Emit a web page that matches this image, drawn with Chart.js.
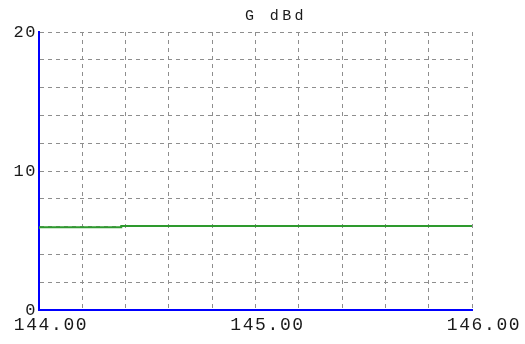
<!DOCTYPE html>
<html>
<head>
<meta charset="utf-8">
<script src="https://cdn.jsdelivr.net/npm/chart.js@4/dist/chart.umd.min.js"></script>
<style>
  html, body { margin: 0; padding: 0; background: #ffffff; overflow: hidden; }
  #wrap { width: 525px; height: 364px; }
</style>
</head>
<body>
<div id="wrap"><canvas id="gain" width="525" height="364"></canvas></div>
<script>
// Forward gain over the 2 m band
const chartTitle = 'G dBd';
const axisUnit = 'MHz';
const freqMHz = [144.00, 144.38, 145.38, 146.00];
const gainDbd = [5.83, 5.95, 6.05, 6.05];
const xLabelValues = [144, 145, 146];
const yLabelValues = [0, 10, 20];

const points = freqMHz.map((f, i) => ({ x: f, y: gainDbd[i] }));
const mono = '"Liberation Mono", "Courier New", monospace';

const isLabelled = (v, list) => list.some(t => Math.abs(v - t) < 1e-6);

// wide, evenly spaced lettering for the axis numbers
const spacing = {
  id: 'spacing',
  beforeDraw(chart) { chart.ctx.letterSpacing = '1.6px'; },
  afterDraw(chart) { chart.ctx.letterSpacing = '0px'; }
};

// heading above the plot
const heading = {
  id: 'heading',
  afterDraw(chart) {
    const ctx = chart.ctx;
    ctx.save();
    ctx.letterSpacing = '3.4px';
    ctx.font = '15px ' + mono;
    ctx.fillStyle = '#1a1a1a';
    ctx.textAlign = 'center';
    ctx.textBaseline = 'middle';
    ctx.fillText(chartTitle, 276, 16);
    ctx.restore();
  }
};

new Chart(document.getElementById('gain'), {
  type: 'line',
  data: {
    datasets: [{
      data: points,
      borderColor: '#2e9a2e',
      borderWidth: 2,
      pointRadius: 0,
      stepped: 'after',
      fill: false
    }]
  },
  options: {
    responsive: false,
    animation: false,
    events: [],
    layout: { padding: { top: 32, right: 53, bottom: 0, left: 0 } },
    plugins: { legend: { display: false }, tooltip: { enabled: false }, title: { display: false } },
    scales: {
      x: {
        type: 'linear',
        min: 144,
        max: 146,
        afterFit(scale) { scale.height = 54; scale.paddingLeft = 0; scale.paddingRight = 0; },
        ticks: {
          stepSize: 0.2,
          autoSkip: false,
          maxRotation: 0,
          labelOffset: 12,
          padding: 4,
          color: '#1a1a1a',
          font: { family: mono, size: 18 },
          callback: v => isLabelled(v, xLabelValues) ? Number(v).toFixed(2) : ''
        },
        grid: { color: '#8e8e8e', lineWidth: 1, drawTicks: false },
        border: { color: '#0000ff', width: 2, dash: [4, 4] },
        title: {
          display: true,
          text: axisUnit,
          color: '#dadada',
          font: { family: mono, size: 18 },
          padding: { top: 0, bottom: 2 }
        }
      },
      y: {
        min: 0,
        max: 20,
        afterFit(scale) { scale.width = 39; },
        ticks: {
          stepSize: 2,
          autoSkip: false,
          padding: 2,
          color: '#1a1a1a',
          font: { family: mono, size: 17 },
          callback: v => isLabelled(v, yLabelValues) ? String(v) : ''
        },
        grid: { color: '#8e8e8e', lineWidth: 1, drawTicks: false },
        border: { color: '#0000ff', width: 2, dash: [4, 4] }
      }
    }
  },
  plugins: [spacing, heading]
});
</script>
</body>
</html>
